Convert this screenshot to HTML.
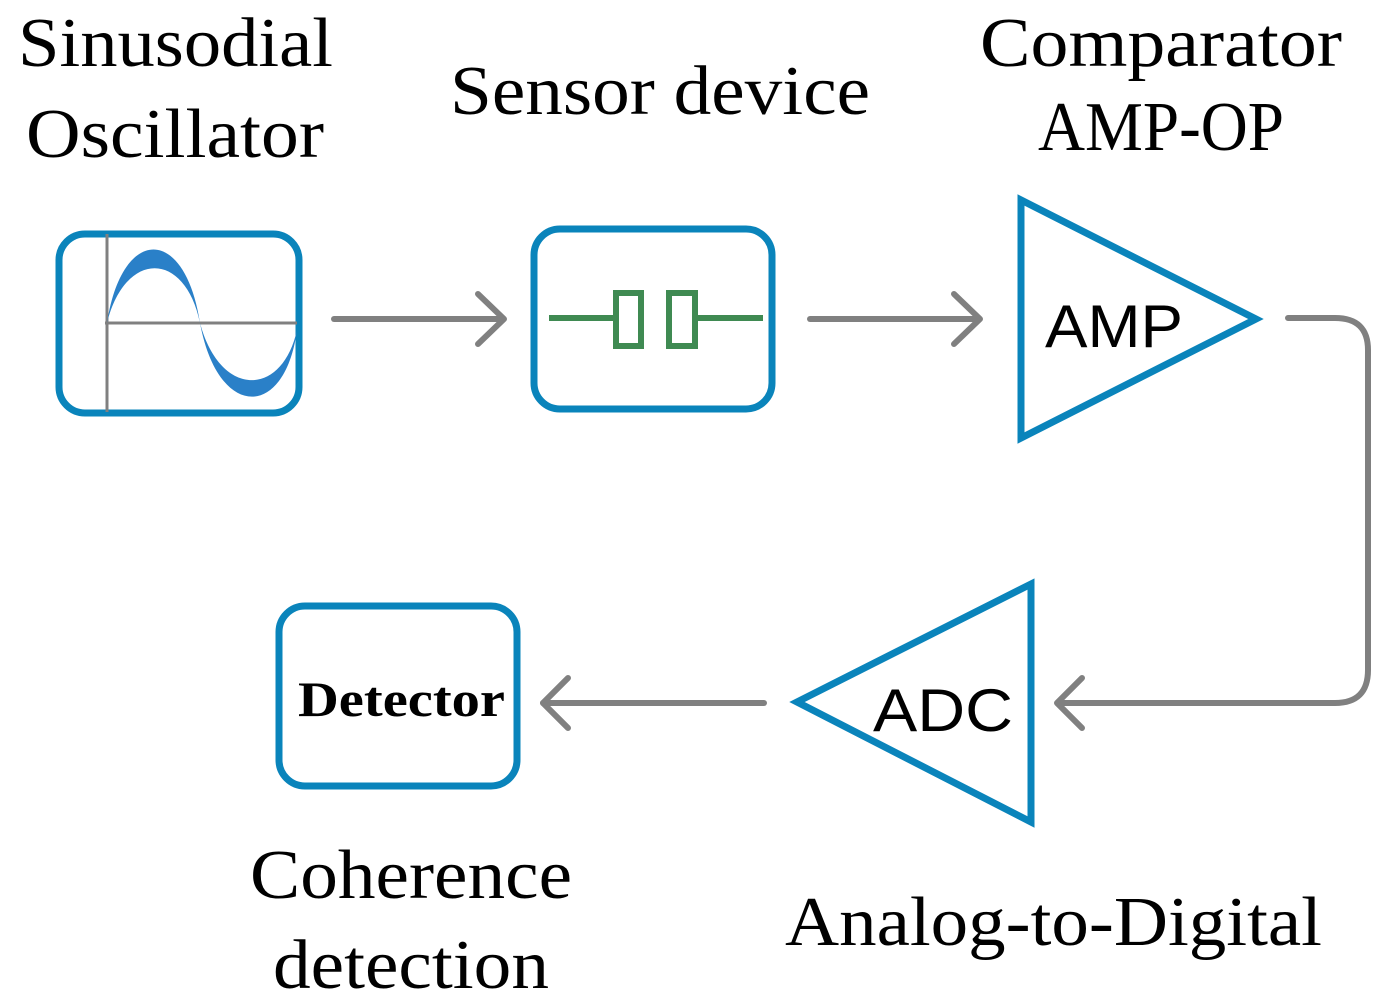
<!DOCTYPE html>
<html><head><style>
body{margin:0;background:#fff;}
svg{display:block}
text{font-family:"Liberation Serif",serif;fill:#000}
</style></head><body>
<svg width="1393" height="1005" viewBox="0 0 1393 1005">
<g font-size="70" lengthAdjust="spacingAndGlyphs">
<text x="18" y="66" textLength="315" lengthAdjust="spacingAndGlyphs">Sinusodial</text>
<text x="26" y="157" textLength="298" lengthAdjust="spacingAndGlyphs">Oscillator</text>
<text x="450" y="114" textLength="420" lengthAdjust="spacingAndGlyphs">Sensor device</text>
<text x="980" y="66" textLength="362" lengthAdjust="spacingAndGlyphs">Comparator</text>
<text x="1038" y="150" textLength="246" lengthAdjust="spacingAndGlyphs">AMP-OP</text>
<text x="250" y="898" textLength="322" lengthAdjust="spacingAndGlyphs">Coherence</text>
<text x="273" y="988" textLength="276" lengthAdjust="spacingAndGlyphs">detection</text>
<text x="785" y="945" textLength="537" lengthAdjust="spacingAndGlyphs">Analog-to-Digital</text>
</g>
<g fill="none" stroke="#0a84bb" stroke-width="7">
<rect x="59" y="234" width="240" height="179" rx="26"/>
<rect x="534" y="229" width="238" height="180" rx="26"/>
<rect x="279" y="606" width="238" height="180" rx="26"/>
<polygon points="1021,200 1021,438 1256,319"/>
<polygon points="1031,584 1031,822 797,702"/>
</g>
<text x="298" y="716" font-size="50" font-weight="bold" textLength="207" lengthAdjust="spacingAndGlyphs">Detector</text>
<text x="1045" y="347" font-size="60" style="font-family:'Liberation Sans',sans-serif" textLength="138" lengthAdjust="spacingAndGlyphs">AMP</text>
<text x="873" y="731" font-size="60" style="font-family:'Liberation Sans',sans-serif" textLength="140" lengthAdjust="spacingAndGlyphs">ADC</text>
<g stroke="#808080" stroke-width="3">
<line x1="107" y1="234" x2="107" y2="412"/>
<line x1="105" y1="323" x2="297" y2="323"/>
</g>
<path d="M107,323 C122,225 185,225 200,323 C218,420 285,420 297,330 C282,398 220,398 200,323 C185,250 125,250 107,323Z" fill="#2a80c8"/>
<g stroke="#3f8a52" stroke-width="6" fill="none">
<line x1="549" y1="318" x2="615" y2="318"/>
<line x1="697" y1="318" x2="763" y2="318"/>
<rect x="616" y="293" width="25" height="53"/>
<rect x="669" y="293" width="26" height="53"/>
</g>
<g stroke="#808080" stroke-width="6" fill="none" stroke-linecap="round" stroke-linejoin="round">
<line x1="334" y1="319" x2="503" y2="319"/><polyline points="478,294 504,319 478,344"/>
<line x1="810" y1="319" x2="979" y2="319"/><polyline points="954,294 980,319 954,344"/>
<path d="M1288,318 H1335 Q1368,318 1368,350 V670 Q1368,703 1335,703 H1058"/><polyline points="1082,678 1057,703 1082,728"/>
<line x1="764" y1="703" x2="543" y2="703"/><polyline points="568,678 543,703 568,728"/>
</g>
</svg>
</body></html>
